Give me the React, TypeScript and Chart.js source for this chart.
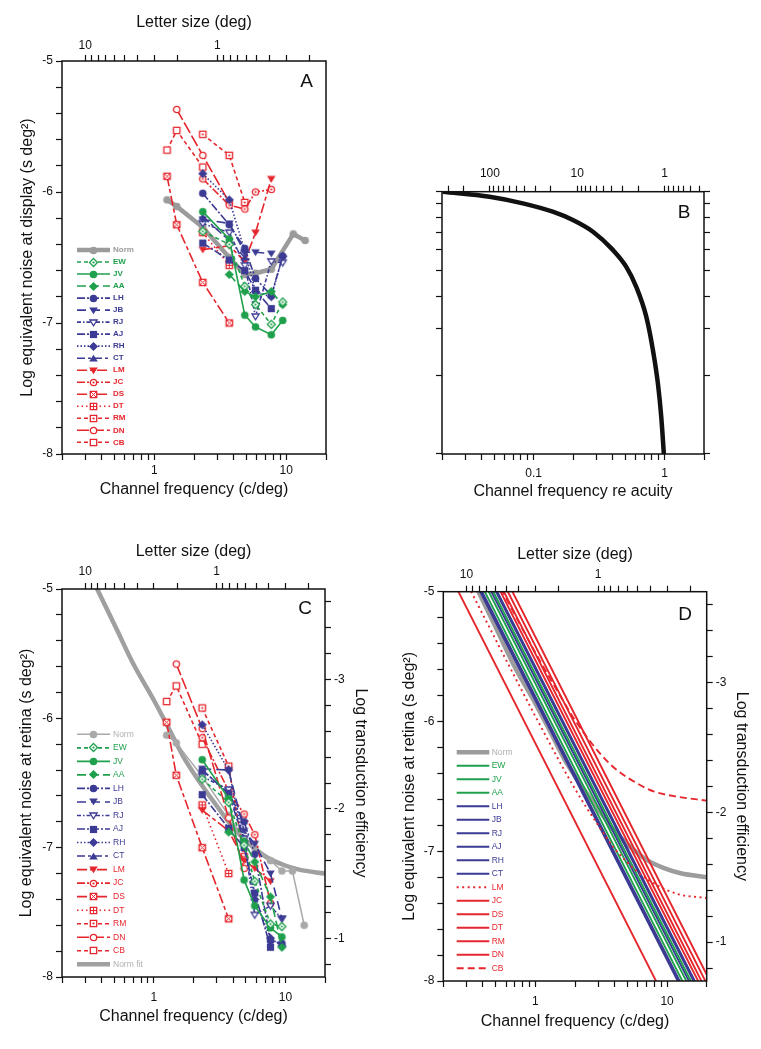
import React, { useEffect, useRef } from 'react';
import { Chart, registerables } from 'chart.js';

Chart.register(...registerables);

const FONT = '"Liberation Sans", Arial, Helvetica, sans-serif';
Chart.defaults.font.family = FONT;
const PAGE_W = 761;
const PAGE_H = 1049;

// ---------------- ticks ----------------
const Y_TICKS = [-8, -7.8, -7.6, -7.4, -7.2, -7, -6.8, -6.6, -6.4, -6.2, -6, -5.8, -5.6, -5.4, -5.2, -5];
const Y_LABELED = [-8, -7, -6, -5];
const EFF_TICKS = [-3.6, -3.4, -3.2, -3, -2.8, -2.6, -2.4, -2.2, -2, -1.8, -1.6, -1.4, -1.2, -1, -0.8];
const EFF_LABELED = [-3, -2, -1];
const FREQ_TICKS = [0.2, 0.3, 0.4, 0.5, 0.6, 0.7, 0.8, 0.9, 1, 2, 3, 4, 5, 6, 7, 8, 9, 10, 20];
const FREQ_LABELED = [1, 10];
const LETTER_TICKS = [0.2, 0.3, 0.4, 0.5, 0.6, 0.7, 0.8, 0.9, 1, 2, 3, 4, 5, 6, 7, 8, 9, 10];
const LETTER_LABELED = [1, 10];
const REL_TICKS = [0.02, 0.03, 0.04, 0.05, 0.06, 0.07, 0.08, 0.09, 0.1, 0.2, 0.3, 0.4, 0.5, 0.6, 0.7, 0.8, 0.9, 1, 2];
const REL_LABELED = [0.1, 1];
const B_TOP_TICKS = [0.4, 0.5, 0.6, 0.7, 0.8, 0.9, 1, 2, 3, 4, 5, 6, 7, 8, 9, 10, 20, 30, 40, 50, 60, 70, 80, 90, 100, 200, 300];
const B_TOP_LABELED = [1, 10, 100];
const B_Y_TICKS = [0.1, 0.2, 0.3, 0.4, 0.5, 0.6, 0.7, 0.8, 0.9, 1];

// ---------------- categories ----------------
const OBSERVERS = ['EW', 'JV', 'AA', 'LH', 'JB', 'RJ', 'AJ', 'RH', 'CT', 'LM', 'JC', 'DS', 'DT', 'RM', 'DN', 'CB'];
const FREQ = [1.25, 1.48, 2.33, 3.7, 4.85, 5.85, 7.7, 9.4, 11.3, 13.9];

// ---------------- panel A: log equivalent noise at display ----------------
const A_NORM = [-6.06, -6.11, -6.27, -6.5, -6.63, -6.62, -6.59, null, -6.32, -6.37];
const A_EW = [null, null, -6.3, -6.4, -6.72, -6.86, -7.01, -6.84, null, null];
const A_JV = [null, null, -6.15, -6.36, -6.94, -7.03, -7.09, -6.98, null, null];
const A_AA = [null, null, null, -6.63, -6.76, -6.8, -6.76, -6.86, null, null];
const A_LH = [null, null, -6.01, -6.25, -6.43, -6.66, -6.79, -6.49, null, null];
const A_JB = [null, null, -6.21, -6.24, -6.46, -6.46, -6.47, null, null, null];
const A_RJ = [null, null, -6.24, -6.31, -6.56, -6.95, -6.53, -6.54, null, null];
const A_AJ = [null, null, -6.39, -6.52, -6.6, -6.75, -6.89, null, null, null];
const A_RH = [null, null, -5.86, -6.06, -6.45, -6.76, -6.8, -6.49, null, null];
const A_CT = [null, null, -6.19, -6.37, -6.5, null, null, null, null, null];
const A_LM = [null, null, -6.44, -6.41, -6.53, -6.31, -5.9, null, null, null];
const A_JC = [null, null, -5.9, -6.1, -6.13, -6.0, -5.98, null, null, null];
const A_DS = [-5.88, -6.25, -6.69, -7.0, null, null, null, null, null, null];
const A_DT = [null, null, -6.31, -6.56, null, null, null, null, null, null];
const A_RM = [null, null, -5.56, -5.72, -6.08, null, null, null, null, null];
const A_DN = [null, -5.37, -5.72, -6.08, null, null, null, null, null, null];
const A_CB = [-5.68, -5.53, -5.81, null, null, null, null, null, null, null];

// ---------------- panel B: curve ----------------
const B_X = [0.0203, 0.0461, 0.0828, 0.14, 0.1995, 0.284, 0.403, 0.509, 0.608, 0.725, 0.815, 0.889, 0.943, 0.983, 1.0];
const B_Y = [1.0, 0.957, 0.903, 0.839, 0.78, 0.704, 0.6, 0.518, 0.434, 0.334, 0.249, 0.186, 0.139, 0.1035, 0.09];

// ---------------- panel C: log equivalent noise at retina ----------------
const C_NORM = [-6.13, -6.19, -6.45, -6.75, -6.93, -7.0, -7.1, -7.18, -7.18, -7.6];
const C_EW = [null, null, -6.47, -6.65, -6.98, -7.26, -7.59, -7.61, null, null];
const C_JV = [null, null, -6.32, -6.62, -7.25, -7.45, -7.62, -7.69, null, null];
const C_AA = [null, null, null, -6.88, -6.95, -7.11, -7.38, -7.77, null, null];
const C_LH = [null, null, -6.4, -6.58, -6.8, -7.05, -7.72, -7.74, null, null];
const C_JB = [null, null, -6.39, -6.4, -6.87, -6.97, -7.2, -7.55, null, null];
const C_RJ = [null, null, -6.45, -6.55, -6.93, -7.52, -7.45, -7.55, null, null];
const C_AJ = [null, null, -6.59, -6.85, -7.0, -7.35, -7.77, null, null, null];
const C_RH = [null, null, -6.05, -6.4, -6.95, -7.4, -7.7, -7.76, null, null];
const C_CT = [null, null, -6.4, -6.58, -6.95, null, null, null, null, null];
const C_LM = [null, null, -6.71, -6.87, -7.1, -7.16, -7.26, null, null, null];
const C_JC = [null, null, -6.15, -6.56, -6.74, -6.9, -7.43, null, null, null];
const C_DS = [-6.03, -6.44, -7.0, -7.55, null, null, null, null, null, null];
const C_DT = [null, null, -6.67, -7.2, null, null, null, null, null, null];
const C_RM = [null, null, -5.92, -6.37, -7.07, null, null, null, null, null];
const C_DN = [null, -5.58, -6.08, -6.77, -7.16, null, null, null, null, null];
const C_CB = [-5.87, -5.75, -6.2, null, null, null, null, null, null, null];

// Norm fit (C and D)
const FIT_F = [0.33, 0.37, 0.52, 0.69, 1.0, 1.27, 1.66, 2.22, 2.97, 3.97, 5.31, 7.1, 9.5, 12.7, 20];
const FIT_V = [-4.9, -5.0, -5.31, -5.57, -5.86, -6.06, -6.29, -6.49, -6.67, -6.84, -6.97, -7.07, -7.13, -7.17, -7.2];

// ---------------- panel D: model lines ----------------
const D_F = [0.2, 20];
const D_EW = [-4.37, -8.37];
const D_JV = [-4.31, -8.31];
const D_AA = [-4.24, -8.24];
const D_LH = [-4.44, -8.44];
const D_JB = [-4.43, -8.43];
const D_RJ = [-4.18, -8.18];
const D_AJ = [-4.27, -8.27];
const D_RH = [-4.2, -8.2];
const D_CT = [-4.41, -8.41];
const D_LM_F = [0.25, 0.5, 1, 2, 3, 4, 6, 8, 12, 20];
const D_LM = [-4.77, -5.37, -5.96, -6.52, -6.8, -6.98, -7.16, -7.25, -7.33, -7.36];
const D_JC = [-4.13, -8.13];
const D_DS = [-4.77, -8.77];
const D_DT = [-4.08, -8.08];
const D_RM = [-4.02, -8.02];
const D_DN = [-3.95, -7.95];
const D_CB_F = [0.5, 1, 1.5, 2, 3, 4, 6, 8, 12, 20];
const D_CB = [-4.9, -5.47, -5.78, -5.99, -6.23, -6.36, -6.48, -6.54, -6.58, -6.61];

// ---------------- styles ----------------
const GREEN = '#1fa04c';
const BLUE = '#3b3a94';
const RED = '#e6262d';
const OBS_COLOR = [GREEN, GREEN, GREEN, BLUE, BLUE, BLUE, BLUE, BLUE, BLUE, RED, RED, RED, RED, RED, RED, RED];
const OBS_MARKER = ['diamondDot', 'circle', 'diamond', 'circle', 'triDown', 'triDownOpen', 'square', 'diamond', 'triUp', 'triDown', 'circleDot', 'squareX', 'squarePlus', 'squareDot', 'circleOpen', 'squareOpen'];
const OBS_DASH = [[4, 3], [], [9, 4], [8, 2, 2, 2], [9, 5], [4, 2, 1.5, 2], [8, 2, 2, 2], [1.5, 2], [8, 3, 3, 3], [10, 3, 4, 3], [8, 2, 2, 2], [10, 3, 4, 3], [1.5, 3], [4, 3], [12, 3], [4, 3]];
const D_DASH = [[], [], [], [], [], [], [], [], [], [2, 3.5], [], [], [], [], [], [7, 4]];

// ---------------- helpers ----------------
const markerCache = new Map<string, HTMLCanvasElement>();
function marker(kind: string, color: string): HTMLCanvasElement {
  const key = kind + color;
  const hit = markerCache.get(key);
  if (hit) return hit;
  const s = 11;
  const c = s / 2;
  const cv = document.createElement('canvas');
  cv.width = s;
  cv.height = s;
  const g = cv.getContext('2d')!;
  g.lineWidth = 1.3;
  g.strokeStyle = color;
  g.fillStyle = color;
  const open = /(Open|Dot|X|Plus)$/.test(kind);
  g.beginPath();
  if (kind.startsWith('circle')) {
    g.arc(c, c, open ? 3.2 : 3.8, 0, Math.PI * 2);
  } else if (kind.startsWith('diamond')) {
    const r = open ? 4.0 : 4.6;
    g.moveTo(c, c - r); g.lineTo(c + r, c); g.lineTo(c, c + r); g.lineTo(c - r, c); g.closePath();
  } else if (kind.startsWith('triDown')) {
    const r = open ? 3.6 : 4.3;
    g.moveTo(c - r, c - r * 0.7); g.lineTo(c + r, c - r * 0.7); g.lineTo(c, c + r * 0.9); g.closePath();
  } else if (kind.startsWith('triUp')) {
    const r = 4.3;
    g.moveTo(c - r, c + r * 0.7); g.lineTo(c + r, c + r * 0.7); g.lineTo(c, c - r * 0.9); g.closePath();
  } else if (kind.startsWith('square')) {
    const r = open ? 3.2 : 3.6;
    g.rect(c - r, c - r, 2 * r, 2 * r);
  }
  if (open) {
    g.fillStyle = '#fff';
    g.fill();
    g.stroke();
    g.fillStyle = color;
  } else {
    g.fill();
  }
  if (kind.endsWith('Dot')) {
    g.beginPath();
    g.arc(c, c, 1.1, 0, Math.PI * 2);
    g.fill();
  }
  if (kind === 'squareX') {
    g.beginPath(); g.lineWidth = 1;
    g.moveTo(c - 3, c - 3); g.lineTo(c + 3, c + 3); g.moveTo(c + 3, c - 3); g.lineTo(c - 3, c + 3);
    g.stroke();
  }
  if (kind === 'squarePlus') {
    g.beginPath(); g.lineWidth = 1;
    g.moveTo(c - 3, c); g.lineTo(c + 3, c); g.moveTo(c, c - 3); g.lineTo(c, c + 3);
    g.stroke();
  }
  markerCache.set(key, cv);
  return cv;
}

function pts(xs: number[], ys: (number | null)[]) {
  const out: { x: number; y: number }[] = [];
  xs.forEach((x, i) => {
    const y = ys[i];
    if (y !== null && y !== undefined) out.push({ x, y });
  });
  return out;
}

function axis(o: any) {
  const vertical = o.position === 'left' || o.position === 'right';
  return {
    type: o.type,
    position: o.position,
    min: o.min,
    max: o.max,
    reverse: !!o.reverse,
    display: true,
    afterBuildTicks: (s: any) => {
      s.ticks = o.ticks.map((v: number) => ({ value: v }));
    },
    afterFit: (s: any) => {
      if (vertical) s.width = o.size;
      else s.height = o.size;
    },
    ticks: {
      autoSkip: false,
      maxRotation: 0,
      minRotation: 0,
      padding: o.pad,
      color: '#111',
      font: { family: FONT, size: 12 },
      callback: (v: any) => {
        const n = Number(v);
        const m = o.labeled.find((l: number) => Math.abs(l - n) < 1e-6 * Math.max(1, Math.abs(l)));
        return m === undefined ? '' : String(m);
      },
    },
    grid: { display: true, drawOnChartArea: false, drawTicks: true, tickLength: 6, tickColor: '#111', tickWidth: 1.2 },
    border: { display: false },
    title: o.title
      ? { display: true, text: o.title, color: '#111', font: { family: FONT, size: 16 }, padding: { top: 4, bottom: 4 } }
      : { display: false },
  };
}

function framePlugin() {
  return {
    id: 'frame',
    afterDatasetsDraw(chart: any) {
      const { ctx, chartArea: a } = chart;
      ctx.save();
      ctx.strokeStyle = '#111';
      ctx.lineWidth = 1.5;
      ctx.strokeRect(a.left, a.top, a.right - a.left, a.bottom - a.top);
      ctx.restore();
    },
  };
}

function letterPlugin(text: string, x: number, y: number) {
  return {
    id: 'panelLetter',
    afterDraw(chart: any) {
      const ctx = chart.ctx;
      ctx.save();
      ctx.font = `19px ${FONT}`;
      ctx.fillStyle = '#111';
      ctx.textAlign = 'center';
      ctx.textBaseline = 'middle';
      ctx.fillText(text, x, y);
      ctx.restore();
    },
  };
}

function legendPlugin(cfg: { x0: number; x1: number; tx: number; y0: number; dy: number; font: string }) {
  return {
    id: 'obsLegend',
    afterDatasetsDraw(chart: any) {
      const ctx = chart.ctx;
      chart.data.datasets.forEach((d: any) => {
        if (d.legendRow === undefined) return;
        const y = cfg.y0 + d.legendRow * cfg.dy;
        ctx.save();
        ctx.strokeStyle = d.borderColor;
        ctx.lineWidth = d.borderWidth;
        ctx.setLineDash(d.borderDash || []);
        ctx.beginPath();
        ctx.moveTo(cfg.x0, y);
        ctx.lineTo(cfg.x1, y);
        ctx.stroke();
        ctx.setLineDash([]);
        if (d.showMarker && d.pointStyle) {
          const m = d.pointStyle;
          ctx.drawImage(m, Math.round((cfg.x0 + cfg.x1) / 2 - m.width / 2), Math.round(y - m.height / 2));
        }
        ctx.fillStyle = d.legendText;
        ctx.font = cfg.font;
        ctx.textAlign = 'left';
        ctx.textBaseline = 'middle';
        ctx.fillText(d.label, cfg.tx, y);
        ctx.restore();
      });
    },
  };
}

function observerSets(series: (number | null)[][], norm: (number | null)[], normColor: string, normWidth: number, normText: string) {
  const sets: any[] = [];
  sets.push({
    label: 'Norm',
    data: pts(FREQ, norm),
    borderColor: normColor,
    backgroundColor: normColor,
    borderWidth: normWidth,
    borderDash: [],
    pointStyle: marker('circle', normColor),
    pointRadius: 4,
    order: 50,
    legendRow: 0,
    legendText: normText,
    showMarker: true,
  });
  series.forEach((vals, i) => {
    const color = OBS_COLOR[i];
    sets.push({
      label: OBSERVERS[i],
      data: pts(FREQ, vals),
      borderColor: color,
      backgroundColor: color,
      borderWidth: 1.6,
      borderDash: OBS_DASH[i],
      pointStyle: marker(OBS_MARKER[i], color),
      pointRadius: 4,
      legendRow: i + 1,
      legendText: color,
      showMarker: true,
    });
  });
  return sets;
}

const baseOptions = (padding: any) => ({
  responsive: false,
  animation: false,
  devicePixelRatio: 1,
  layout: { padding },
  plugins: { legend: { display: false }, tooltip: { enabled: false } },
  elements: { line: { tension: 0, fill: false } },
});

function buildA(cv: HTMLCanvasElement) {
  const series = [A_EW, A_JV, A_AA, A_LH, A_JB, A_RJ, A_AJ, A_RH, A_CT, A_LM, A_JC, A_DS, A_DT, A_RM, A_DN, A_CB];
  return new Chart(cv, {
    type: 'line',
    data: { datasets: observerSets(series, A_NORM, '#9b9b9b', 4.5, '#9b9b9b') },
    options: {
      ...baseOptions({ left: 13.9, top: 9.1, right: 435, bottom: 545.4 }),
      scales: {
        x: axis({ type: 'logarithmic', position: 'bottom', min: 0.2, max: 20, ticks: FREQ_TICKS, labeled: FREQ_LABELED, size: 49.6, pad: 3, title: 'Channel frequency (c/deg)' }),
        xTop: axis({ type: 'logarithmic', position: 'top', min: 0.15, max: 15, reverse: true, ticks: LETTER_TICKS, labeled: LETTER_LABELED, size: 51.9, pad: 2, title: 'Letter size (deg)' }),
        y: axis({ type: 'linear', position: 'left', min: -8, max: -5, ticks: Y_TICKS, labeled: Y_LABELED, size: 48.1, pad: 3, title: 'Log equivalent noise at display (s deg²)' }),
      },
    } as any,
    plugins: [framePlugin(), letterPlugin('A', 306.7, 82), legendPlugin({ x0: 77, x1: 110, tx: 113, y0: 250, dy: 12.02, font: `bold 8px ${FONT}` })],
  } as any);
}

function buildB(cv: HTMLCanvasElement) {
  return new Chart(cv, {
    type: 'line',
    data: {
      datasets: [
        {
          data: pts(B_X, B_Y),
          borderColor: '#111',
          borderWidth: 4.5,
          pointRadius: 0,
          cubicInterpolationMode: 'monotone',
        },
      ],
    },
    options: {
      ...baseOptions({ left: 432, top: 161.7, right: 47, bottom: 543.7 }),
      scales: {
        x: axis({ type: 'logarithmic', position: 'bottom', min: 0.02, max: 2, ticks: REL_TICKS, labeled: REL_LABELED, size: 51.3, pad: 6, title: 'Channel frequency re acuity' }),
        xTop: axis({ type: 'logarithmic', position: 'top', min: 0.3536, max: 353.6, reverse: true, ticks: B_TOP_TICKS, labeled: B_TOP_LABELED, size: 30, pad: 4.5 }),
        y: axis({ type: 'logarithmic', position: 'left', min: 0.1, max: 1, ticks: B_Y_TICKS, labeled: [], size: 10, pad: 2 }),
        y2: axis({ type: 'logarithmic', position: 'right', min: 0.1, max: 1, ticks: B_Y_TICKS, labeled: [], size: 10, pad: 2 }),
      },
    } as any,
    plugins: [framePlugin(), letterPlugin('B', 684, 213)],
  } as any);
}

function buildC(cv: HTMLCanvasElement) {
  const series = [C_EW, C_JV, C_AA, C_LH, C_JB, C_RJ, C_AJ, C_RH, C_CT, C_LM, C_JC, C_DS, C_DT, C_RM, C_DN, C_CB];
  const sets = observerSets(series, C_NORM, '#a9a9a9', 1.5, '#b0b0b0');
  sets.push({
    label: 'Norm fit',
    data: pts(FIT_F, FIT_V),
    borderColor: '#a0a0a0',
    borderWidth: 4.5,
    borderDash: [],
    pointRadius: 0,
    cubicInterpolationMode: 'monotone',
    order: 60,
    legendRow: 17,
    legendText: '#b0b0b0',
    showMarker: false,
  });
  return new Chart(cv, {
    type: 'line',
    data: { datasets: sets },
    options: {
      ...baseOptions({ left: 13.1, top: 538.1, right: 387.4, bottom: 18.4 }),
      scales: {
        x: axis({ type: 'logarithmic', position: 'bottom', min: 0.2, max: 20, ticks: FREQ_TICKS, labeled: FREQ_LABELED, size: 53.6, pad: 7.8, title: 'Channel frequency (c/deg)' }),
        xTop: axis({ type: 'logarithmic', position: 'top', min: 0.15, max: 15, reverse: true, ticks: LETTER_TICKS, labeled: LETTER_LABELED, size: 50.9, pad: 4, title: 'Letter size (deg)' }),
        y: axis({ type: 'linear', position: 'left', min: -8, max: -5, ticks: Y_TICKS, labeled: Y_LABELED, size: 48.9, pad: 3, title: 'Log equivalent noise at retina (s deg²)' }),
        y2: axis({ type: 'linear', position: 'right', min: -3.7, max: -0.7, reverse: true, ticks: EFF_TICKS, labeled: EFF_LABELED, size: 48.6, pad: 3, title: 'Log transduction efficiency' }),
      },
    } as any,
    plugins: [framePlugin(), letterPlugin('C', 305, 609), legendPlugin({ x0: 77, x1: 110, tx: 113, y0: 734.3, dy: 13.53, font: `8.5px ${FONT}` })],
  } as any);
}

function buildD(cv: HTMLCanvasElement) {
  const lineData = [
    pts(D_F, D_EW), pts(D_F, D_JV), pts(D_F, D_AA), pts(D_F, D_LH), pts(D_F, D_JB), pts(D_F, D_RJ),
    pts(D_F, D_AJ), pts(D_F, D_RH), pts(D_F, D_CT), pts(D_LM_F, D_LM), pts(D_F, D_JC), pts(D_F, D_DS),
    pts(D_F, D_DT), pts(D_F, D_RM), pts(D_F, D_DN), pts(D_CB_F, D_CB),
  ];
  const sets: any[] = [
    {
      label: 'Norm',
      data: pts(FIT_F, FIT_V),
      borderColor: '#9c9c9c',
      borderWidth: 4.5,
      borderDash: [],
      pointRadius: 0,
      cubicInterpolationMode: 'monotone',
      order: 60,
      legendRow: 0,
      legendText: '#b0b0b0',
      showMarker: false,
    },
  ];
  lineData.forEach((data, i) => {
    sets.push({
      label: OBSERVERS[i],
      data,
      borderColor: OBS_COLOR[i],
      borderWidth: 1.9,
      borderDash: D_DASH[i],
      pointRadius: 0,
      cubicInterpolationMode: 'monotone',
      order: OBS_COLOR[i] === RED ? 0 : 5,
      legendRow: i + 1,
      legendText: OBS_COLOR[i],
      showMarker: false,
    });
  });
  return new Chart(cv, {
    type: 'line',
    data: { datasets: sets },
    options: {
      ...baseOptions({ left: 396.4, top: 541.4, right: 6.4, bottom: 13.7 }),
      scales: {
        x: axis({ type: 'logarithmic', position: 'bottom', min: 0.2, max: 20, ticks: FREQ_TICKS, labeled: FREQ_LABELED, size: 54.3, pad: 7.8, title: 'Channel frequency (c/deg)' }),
        xTop: axis({ type: 'logarithmic', position: 'top', min: 0.15, max: 15, reverse: true, ticks: LETTER_TICKS, labeled: LETTER_LABELED, size: 50.3, pad: 3.5, title: 'Letter size (deg)' }),
        y: axis({ type: 'linear', position: 'left', min: -8, max: -5, ticks: Y_TICKS, labeled: Y_LABELED, size: 46.9, pad: 3, title: 'Log equivalent noise at retina (s deg²)' }),
        y2: axis({ type: 'linear', position: 'right', min: -3.7, max: -0.7, reverse: true, ticks: EFF_TICKS, labeled: EFF_LABELED, size: 47.9, pad: 3, title: 'Log transduction efficiency' }),
      },
    } as any,
    plugins: [framePlugin(), letterPlugin('D', 685, 615), legendPlugin({ x0: 456.7, x1: 489.3, tx: 491.7, y0: 752.3, dy: 13.5, font: `8.5px ${FONT}` })],
  } as any);
}

export default function App() {
  const r0 = useRef<HTMLCanvasElement>(null);
  const r1 = useRef<HTMLCanvasElement>(null);
  const r2 = useRef<HTMLCanvasElement>(null);
  const r3 = useRef<HTMLCanvasElement>(null);
  useEffect(() => {
    const charts = [buildA(r0.current!), buildB(r1.current!), buildC(r2.current!), buildD(r3.current!)];
    return () => charts.forEach((c) => c.destroy());
  }, []);
  const style: React.CSSProperties = { position: 'absolute', left: 0, top: 0, width: PAGE_W, height: PAGE_H };
  return (
    <div style={{ position: 'absolute', left: 0, top: 0, width: PAGE_W, height: PAGE_H, background: '#fff', overflow: 'hidden' }}>
      <canvas ref={r0} width={PAGE_W} height={PAGE_H} style={style} />
      <canvas ref={r1} width={PAGE_W} height={PAGE_H} style={style} />
      <canvas ref={r2} width={PAGE_W} height={PAGE_H} style={style} />
      <canvas ref={r3} width={PAGE_W} height={PAGE_H} style={style} />
    </div>
  );
}
